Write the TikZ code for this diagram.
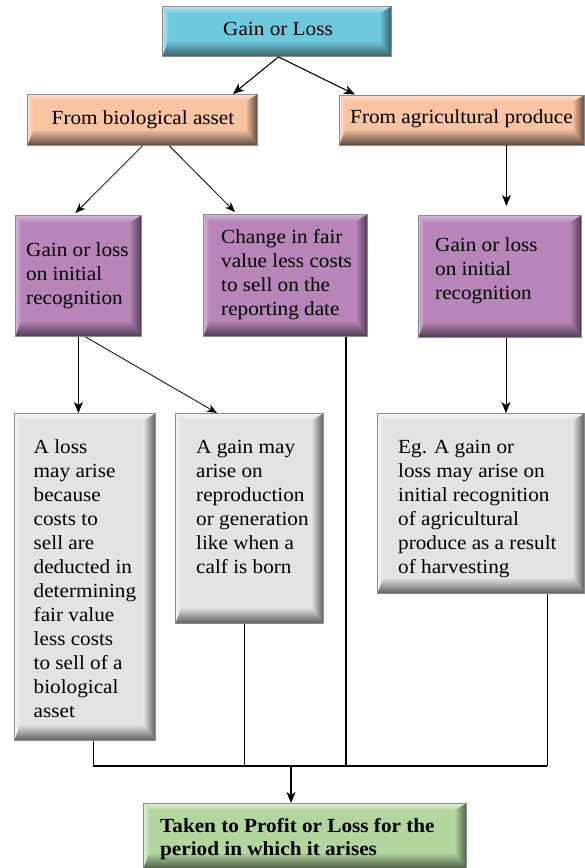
\documentclass[tikz,border=0pt]{standalone}
\usepackage{fontspec}
\setmainfont{Liberation Serif}[FakeStretch=1.06]
\usetikzlibrary{arrows.meta}
\definecolor{bord}{HTML}{8C8C8C}
\definecolor{cyM}{HTML}{6FC9DE}\definecolor{cyL}{HTML}{B8E6F0}\definecolor{cyD}{HTML}{3B5F66}
\definecolor{peM}{HTML}{F7C3A1}\definecolor{peL}{HTML}{FBDDCB}\definecolor{peD}{HTML}{5D4A3F}
\definecolor{puM}{HTML}{B785B9}\definecolor{puL}{HTML}{D6B3D8}\definecolor{puD}{HTML}{4E3C51}
\definecolor{grM}{HTML}{E3E3E3}\definecolor{grL}{HTML}{F4F4F4}\definecolor{grD}{HTML}{5E5E5E}
\definecolor{gnM}{HTML}{B3D69E}\definecolor{gnL}{HTML}{DDEED3}\definecolor{gnD}{HTML}{4E5E47}
\tikzset{
  bevbox/.style n args={3}{rectangle, draw=bord, line width=0.9pt, fill=#1,
    inner sep=0pt, anchor=north west,
    path picture={
      \coordinate (nw) at (path picture bounding box.north west);
      \coordinate (ne) at (path picture bounding box.north east);
      \coordinate (sw) at (path picture bounding box.south west);
      \coordinate (se) at (path picture bounding box.south east);
      \coordinate (inw) at ([xshift=6pt,yshift=-7pt]nw);
      \coordinate (ine) at ([xshift=-12pt,yshift=-7pt]ne);
      \coordinate (isw) at ([xshift=6pt,yshift=16pt]sw);
      \coordinate (ise) at ([xshift=-12pt,yshift=16pt]se);
      \shade[top color=#2, bottom color=#1] (nw) -- (ne) -- (ine) -- (inw) -- cycle;
      \shade[left color=#2, right color=#1] (nw) -- (inw) -- (isw) -- (sw) -- cycle;
      \shade[left color=#1, right color=#3] (ne) -- (ine) -- (ise) -- (se) -- cycle;
      \shade[top color=#1, bottom color=#3] (sw) -- (isw) -- (ise) -- (se) -- cycle;
    }},
  cyanbox/.style={bevbox={cyM}{cyL}{cyD}},
  peachbox/.style={bevbox={peM}{peL}{peD}},
  purplebox/.style={bevbox={puM}{puL}{puD}},
  graybox/.style={bevbox={grM}{grL}{grD}},
  greenbox/.style={bevbox={gnM}{gnL}{gnD}},
  txt/.style={inner sep=0pt, align=left, anchor=base west,
    font=\fontsize{20}{24}\selectfont},
  txtc/.style={inner sep=0pt, anchor=base, font=\fontsize{20}{24}\selectfont},
  arr/.style={-{Stealth[length=11pt,width=9pt,inset=3pt]}, line width=1.1pt},
  arrmid/.style={-{Stealth[length=11pt,width=9pt,inset=3pt]}, line width=0.9pt},
  arrthin/.style={-{Stealth[length=10pt,width=8pt,inset=3pt]}, line width=0.8pt},
  thinline/.style={line width=0.9pt},
  thickline/.style={line width=1.7pt},
}
\begin{document}
\begin{tikzpicture}[x=1pt,y=-1pt]
\useasboundingbox[fill=white] (0,0) rectangle (585,868);

% boxes
\node[cyanbox, minimum width=229pt, minimum height=50pt] (gl) at (162,6) {};
\node[peachbox, minimum width=230pt, minimum height=51pt] (bio) at (27,94) {};
\node[peachbox, minimum width=245pt, minimum height=50pt] (agri) at (339,94.5) {};
\node[purplebox, minimum width=126pt, minimum height=121pt] (p1) at (15,215) {};
\node[purplebox, minimum width=164pt, minimum height=122pt] (p2) at (203,214) {};
\node[purplebox, minimum width=163pt, minimum height=122pt] (p3) at (418,215) {};
\node[graybox, minimum width=141pt, minimum height=327pt] (g1) at (14,413) {};
\node[graybox, minimum width=148pt, minimum height=210pt] (g2) at (175,413) {};
\node[graybox, minimum width=207pt, minimum height=180pt] (g3) at (377,413) {};
\node[greenbox, minimum width=323pt, minimum height=65pt] (gr) at (143,803) {};

% texts (base anchor = baseline of the last line)
\node[txtc] (glt) at (278,35) {Gain or Loss};
\node[txtc] (biot) at (143,124) {From biological asset};
\node[txtc] (agrit) at (461.5,123) {From agricultural produce};
\node[txt] (p1t) at (26,304) {Gain or loss\\on initial\\recognition};
\node[txt] (p2t) at (221,315) {Change in fair\\value less costs\\to sell on the\\reporting date};
\node[txt] (p3t) at (435,299) {Gain or loss\\on initial\\recognition};
\node[txt] (g1t) at (33.5,717) {A loss\\may arise\\because\\costs to\\sell are\\deducted in\\determining\\fair value\\less costs\\to sell of a\\biological\\asset};
\node[txt] (g2t) at (196,573) {A gain may\\arise on\\reproduction\\or generation\\like when a\\calf is born};
\node[txt] (g3t) at (398,573) {Eg. A gain or\\loss may arise on\\initial recognition\\of agricultural\\produce as a result\\of harvesting};
\node[txt, font=\fontsize{20}{23.5}\selectfont\bfseries] (grt) at (160,855.5) {Taken to Profit or Loss for the\\period in which it arises};

% connector points
\coordinate (glo) at ([xshift=1.5pt]gl.south);
\coordinate (bio1) at (bio.south);
\coordinate (bio2) at ([xshift=27pt]bio.south);
\coordinate (agro) at ([xshift=44.5pt]agri.south);
\coordinate (p1o) at (p1.south);
\coordinate (p1d) at ([xshift=7pt]p1.south);
\coordinate (p2o) at ([xshift=-22pt]p2.south east);
\coordinate (p3o) at ([xshift=6pt]p3.south);
\coordinate (g1o) at ([xshift=8pt]g1.south);
\coordinate (g2o) at ([xshift=-5pt]g2.south);
\coordinate (g3o) at ([xshift=66pt]g3.south);
\coordinate (j) at (291,766);

% connectors
\draw[arr] (glo) -- ([xshift=-25pt]bio.north east);
\draw[arr] (glo) -- ([xshift=16pt]agri.north west);
\draw[arrthin] (bio1) -- ([xshift=-3pt,yshift=2pt]p1.north);
\draw[arrthin] (bio2) -- ([xshift=32pt,yshift=2pt]p2.north west);
\draw[arrmid, shorten >=9pt] (agro) -- (agro |- p3.north);
\draw[arrmid] (p1o) -- (p1o |- g1.north);
\draw[arrthin] (p1d) -- ([xshift=42pt]g2.north west);
\draw[arrmid] (p3o) -- (p3o |- g3.north);
\draw[thickline] (p2o) -- (p2o |- j);
\draw[thinline] (g1o) -- (g1o |- j);
\draw[thickline] (g2o) -- (g2o |- j);
\draw[thinline] (g3o) -- (g3o |- j);
\draw[line width=1.2pt] (g1o |- j) -- (g3o |- j);
\draw[arr] (j) -- (j |- gr.north);
\end{tikzpicture}
\end{document}
